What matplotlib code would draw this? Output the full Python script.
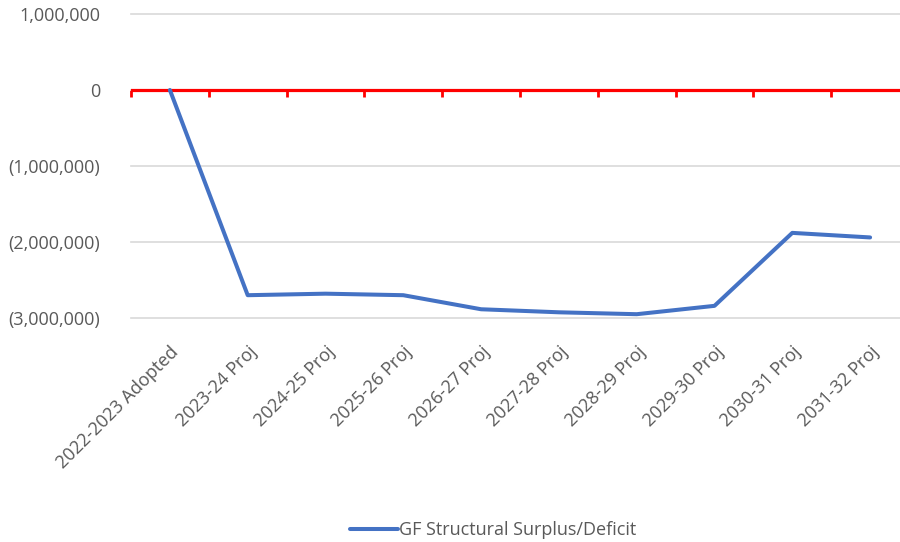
import matplotlib.pyplot as plt
import numpy as np
from matplotlib.ticker import FuncFormatter

categories = ["2022-2023 Adopted", "2023-24 Proj", "2024-25 Proj", "2025-26 Proj",
              "2026-27 Proj", "2027-28 Proj", "2028-29 Proj", "2029-30 Proj",
              "2030-31 Proj", "2031-32 Proj"]
surplus = [0, -2700000, -2680000, -2700000, -2885000, -2925000, -2950000,
           -2840000, -1880000, -1940000]
y_ticks = [-3000000, -2000000, -1000000, 0, 1000000]

plt.rcParams['font.family'] = ['Open Sans', 'DejaVu Sans']
grey = '#595959'
fs = 13

fig = plt.figure(figsize=(9, 5.42), dpi=100)
ax = fig.add_axes([131 / 900, 1 - 318 / 542, 778 / 900, (318 - 14) / 542])

x = np.arange(len(categories))
line, = ax.plot(x, surplus, color='#4472C4', lw=2.9, solid_joinstyle='round',
                solid_capstyle='round', label='GF Structural Surplus/Deficit', zorder=3)

ax.set_xlim(-0.5, len(categories) - 0.5)
ax.set_ylim(-3000000, 1000000)
ax.set_yticks(y_ticks)


def fmt(v, pos):
    if v < 0:
        return '({:,.0f})'.format(-v)
    return '{:,.0f}'.format(v)


ax.yaxis.set_major_formatter(FuncFormatter(fmt))
ax.tick_params(axis='y', length=0, pad=22, labelsize=fs, labelcolor=grey)
ax.grid(axis='y', color='#d9d9d9', lw=1.2)
for gl in ax.get_ygridlines():
    gl.set_clip_on(False)
ax.set_axisbelow(True)
for s in ax.spines.values():
    s.set_visible(False)

ax.set_xticks(x)
ax.set_xticklabels(categories, rotation=45, ha='right', va='top',
                   rotation_mode='anchor', fontsize=fs, color=grey)
ax.tick_params(axis='x', length=0, pad=18)

# red zero axis with boundary tick marks
ax.axhline(0, color='red', lw=2.3, zorder=2)
sec = ax.secondary_xaxis(0.75)
for s in sec.spines.values():
    s.set_visible(False)
sec.set_xticks(np.arange(len(categories) + 1) - 0.5)
sec.tick_params(axis='x', direction='in', length=5, width=2, color='red',
                labeltop=False, labelbottom=False)

fig.legend(handles=[line], loc='center', bbox_to_anchor=(0.548, 1 - 530 / 542),
           frameon=False, fontsize=fs, handlelength=2.65, handletextpad=0.05,
           labelcolor=grey)

fig.savefig('out.png', dpi=100)
